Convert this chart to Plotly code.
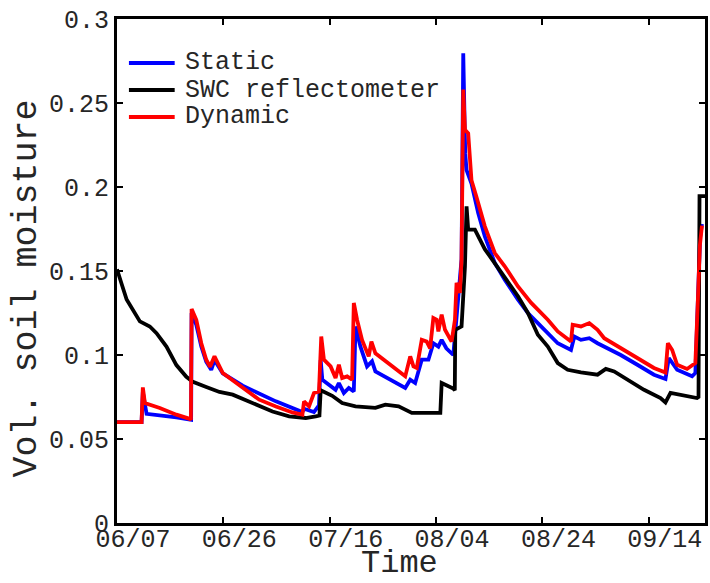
import plotly.graph_objects as go

# x = days since 06/07 (axis tick spacing of 20 units)
swc_day = [0, 0.24, 0.8, 1.81, 3.05, 4.30, 6.17, 7.43, 9.30, 11.17, 13.04, 14.27, 16.78, 19.27, 21.76, 25.50, 29.24,
           32.37, 35.49, 37.36, 38.07,
           38.30, 40.47, 42.34, 44.85, 48.59, 50.46, 52.95, 55.44, 60.80, 61.05, 63.24, 63.52, 63.61, 64.79,
           65.43, 65.73, 66.04, 67.30, 69.17, 72.27, 75.40, 77.27, 79.14, 81.01, 82.88, 84.75, 87.24, 90.36,
           91.92, 93.49, 95.98, 99.10, 102.21, 103.14, 104.08, 105.95, 109.07, 109.35, 109.54, 110.57]
swc_val = [0.151, 0.149, 0.143, 0.133, 0.127, 0.120, 0.117, 0.113, 0.105, 0.094, 0.087, 0.084, 0.081, 0.078, 0.0764, 0.0714, 0.0664,
           0.0635, 0.0625, 0.0635, 0.064,
           0.0790, 0.0757, 0.0714, 0.0694, 0.0685, 0.0704, 0.0694, 0.0655, 0.0655, 0.0833, 0.0800, 0.0790, 0.115, 0.117,
           0.1527, 0.1885, 0.1746, 0.1746, 0.163, 0.149, 0.135, 0.125, 0.112, 0.105, 0.0952, 0.0912, 0.0896, 0.0883,
           0.0917, 0.0902, 0.0853, 0.0793, 0.0744, 0.0718, 0.0774, 0.0764, 0.0744, 0.0750, 0.1946, 0.1946]

dyn_day = [0, 4.62, 4.86, 5.24, 8.04, 11.17, 13.66, 13.90, 14.03, 14.91, 15.85, 16.78, 17.50, 18.33, 19.89, 21.14,
           23.63, 26.75, 29.88, 32.98, 34.86, 35.17, 36.11, 37.04, 37.98, 38.41, 38.91, 40.17, 41.10, 41.72, 42.34,
           43.27, 44.21, 44.53, 45.14, 46.08, 47.33, 47.84, 48.59, 51.08, 54.20, 55.14, 55.75, 56.37, 57.31, 58.24,
           58.88, 59.49, 60.11, 60.43, 61.05, 61.68, 62.92, 63.55, 63.85, 64.48, 64.79, 65.11, 65.43, 66.04, 66.66,
           67.60, 69.17, 71.04, 72.91, 75.40, 77.89, 79.14, 81.01, 82.88, 85.37, 85.69, 87.24, 88.81, 90.36, 91.62,
           94.72, 97.85, 100.97, 103.14, 103.59, 104.40, 105.33, 107.20, 108.14, 108.76, 109.2, 109.6, 110.0]
dyn_val = [0.060, 0.0601, 0.0807, 0.0714, 0.0685, 0.0645, 0.062, 0.0615, 0.1274, 0.121, 0.107, 0.0972, 0.093, 0.0992, 0.0893, 0.0863,
           0.0804, 0.0734, 0.0694, 0.0658, 0.0645, 0.0724, 0.0694, 0.0774, 0.0783, 0.111, 0.0972, 0.0932, 0.0863, 0.0942, 0.0863,
           0.0873, 0.0853, 0.131, 0.121, 0.109, 0.0992, 0.108, 0.101, 0.0952, 0.0873, 0.0992, 0.0932, 0.0923, 0.109, 0.108,
           0.104, 0.122, 0.121, 0.114, 0.124, 0.115, 0.108, 0.121, 0.143, 0.137, 0.157, 0.258, 0.234, 0.232, 0.204,
           0.194, 0.1766, 0.1607, 0.1528, 0.1408, 0.131, 0.127, 0.121, 0.114, 0.108, 0.118, 0.117, 0.119, 0.115, 0.110,
           0.104, 0.0982, 0.0923, 0.0896, 0.107, 0.103, 0.0942, 0.0917, 0.0942, 0.0952, 0.13, 0.165, 0.177]

sta_day = [0, 4.62, 4.86, 5.56, 11.17, 13.66, 13.94, 14.03, 14.91, 15.85, 16.78, 17.72, 18.33, 19.89, 23.63, 29.88,
           34.24, 34.86, 35.17, 37.04, 37.98, 38.30, 38.61, 41.10, 41.72, 42.66, 43.59, 44.53, 44.85, 45.78, 47.02,
           47.96, 48.59, 54.20, 55.14, 56.07, 57.31, 58.56, 59.49, 60.43, 61.05, 61.93, 63.24, 64.17, 64.79, 65.11,
           65.48, 65.73, 66.66, 67.92, 69.17, 71.04, 72.91, 75.40, 77.27, 79.14, 81.01, 82.88, 85.37, 86.0, 87.24,
           88.81, 90.36, 94.72, 97.85, 100.97, 103.14, 103.77, 105.33, 108.14, 108.76, 109.26, 109.64, 110.0]
sta_val = [0.060, 0.0601, 0.078, 0.065, 0.0629, 0.0619, 0.0615, 0.125, 0.118, 0.105, 0.096, 0.0912, 0.097, 0.089, 0.0817, 0.0724,
           0.067, 0.066, 0.068, 0.066, 0.070, 0.097, 0.0853, 0.0793, 0.0833, 0.0774, 0.0804, 0.0783, 0.117, 0.105, 0.0932,
           0.0962, 0.0902, 0.0804, 0.0853, 0.0833, 0.0972, 0.0972, 0.107, 0.105, 0.109, 0.104, 0.100, 0.134, 0.157, 0.2796,
           0.22, 0.210, 0.202, 0.1845, 0.1706, 0.1548, 0.1448, 0.133, 0.125, 0.119, 0.113, 0.107, 0.103, 0.111, 0.109,
           0.110, 0.107, 0.100, 0.0942, 0.0883, 0.0857, 0.0982, 0.0912, 0.0873, 0.0893, 0.13, 0.17, 0.178]

series_names = ["Static", "SWC reflectometer", "Dynamic"]
series_colors = ["#0000ff", "#000000", "#ff0000"]

tick_days = [0, 20, 40, 60, 80, 100]
tick_labels = ["06/07", "06/26", "07/16", "08/04", "08/24", "09/14"]
y_ticks = [0, 0.05, 0.1, 0.15, 0.2, 0.25, 0.3]
y_tick_labels = ["0", "0.05", "0.1", "0.15", "0.2", "0.25", "0.3"]

FONT = "Liberation Mono, Courier New, monospace"
TXT = "#262626"

fig = go.Figure()
for name, color, xs, ys in zip(series_names, series_colors,
                               [sta_day, swc_day, dyn_day], [sta_val, swc_val, dyn_val]):
    fig.add_trace(go.Scatter(x=xs, y=ys, mode="lines", name=name,
                             line=dict(color=color, width=3.8), showlegend=False))

# custom legend (line sample + text)
leg_y = [0.9127, 0.8591, 0.8056]
for name, color, ly in zip(series_names, series_colors, leg_y):
    fig.add_shape(type="line", xref="paper", yref="paper", x0=0.0203, x1=0.0981, y0=ly, y1=ly,
                  line=dict(color=color, width=3.8))
    fig.add_annotation(xref="paper", yref="paper", x=0.1117, y=ly, text=name, showarrow=False,
                       xanchor="left", yanchor="middle", font=dict(family=FONT, size=25, color=TXT))

# axis titles
fig.add_annotation(xref="paper", yref="paper", x=-0.1523, y=0.466, text="Vol. soil moisture",
                   textangle=-90, showarrow=False, xanchor="center", yanchor="middle",
                   font=dict(family=FONT, size=35, color=TXT))
fig.add_annotation(xref="paper", yref="paper", x=0.4805, y=-0.119, text="Time",
                   showarrow=False, xanchor="center", yanchor="bottom", borderpad=0,
                   font=dict(family=FONT, size=32, color=TXT))

fig.update_layout(
    width=710, height=583,
    margin=dict(l=117, r=2, t=19, b=60),
    paper_bgcolor="white", plot_bgcolor="white",
    font=dict(family=FONT, color=TXT),
)
fig.update_xaxes(range=[0, 110.57], tickvals=tick_days, ticktext=tick_labels,
                 showgrid=False, zeroline=False, showline=True, linecolor="black", linewidth=3,
                 mirror="ticks", ticks="inside", ticklen=6, tickwidth=2, tickcolor="black",
                 tickfont=dict(family=FONT, size=25, color=TXT), ticklabelshift=16,
                 ticklabelstandoff=-9)
fig.update_yaxes(range=[0, 0.3], tickvals=y_ticks, ticktext=y_tick_labels,
                 showgrid=False, zeroline=False, showline=True, linecolor="black", linewidth=3,
                 mirror="ticks", ticks="inside", ticklen=6, tickwidth=2, tickcolor="black",
                 tickfont=dict(family=FONT, size=25, color=TXT))

fig.write_html("out.html")
